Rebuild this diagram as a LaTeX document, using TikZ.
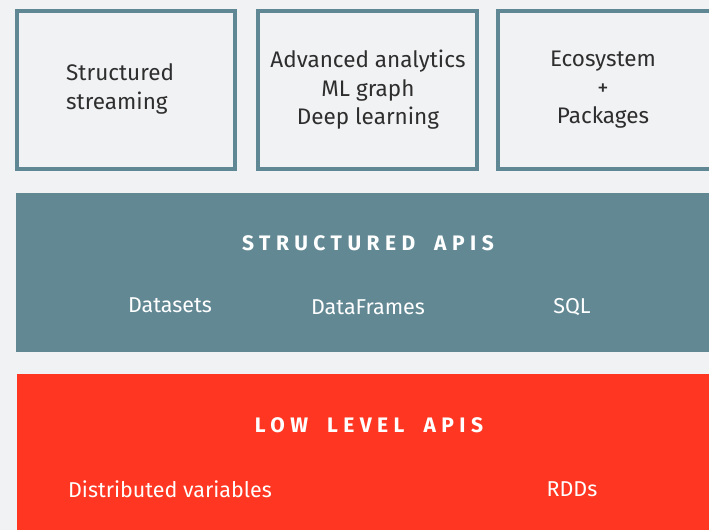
\documentclass[tikz,border=0pt]{standalone}
\usepackage{fontspec}
\setmainfont{Fira Sans}
\definecolor{bgc}{HTML}{F1F2F4}
\definecolor{edgec}{HTML}{5F8794}
\definecolor{bandc}{HTML}{628894}
\definecolor{redc}{HTML}{FF3621}
\definecolor{txtc}{HTML}{2E2E2E}
\begin{document}
\begin{tikzpicture}[x=1pt,y=-1pt,
  topbox/.style={draw=edgec,line width=4pt,fill=bgc},
  toptext/.style={text=txtc,font=\fontsize{22.5}{28.5}\selectfont,align=center,inner sep=0pt},
  title/.style={text=white,font=\fontsize{21}{24}\selectfont\bfseries\addfontfeature{LetterSpace=26},inner sep=0pt},
  item/.style={text=white,font=\fontsize{21.5}{24}\selectfont,inner sep=0pt}]
\clip (0,0) rectangle (709,530);
\fill[bgc] (0,0) rectangle (709,530);
% top boxes
\draw[topbox] (17,11) rectangle (235,169);
\draw[topbox] (258,11) rectangle (477,169);
\draw[topbox] (498,11) rectangle (730,169);
\node[toptext,align=left,anchor=west] (t1) at (66,89) {Structured\\streaming};
\node[toptext] (t2) at (368,90) {Advanced analytics\\ML graph\\Deep learning};
\node[toptext] (t3) at (603,90) {Ecosystem\\+\\Packages};
% structured APIs
\fill[bandc] (16,193) rectangle (709,352);
\node[title] (s) at (368,243) {STRUCTURED\hspace{19pt}APIS};
\node[item] (ds) at (170,305) {Datasets};
\node[item] (df) at (368,307) {DataFrames};
\node[item] (sql) at (572,307) {SQL};
% low level APIs
\fill[redc] (17,374) rectangle (709,530);
\node[title] (l) at (369,425) {LOW\hspace{19pt}LEVEL\hspace{19pt}APIS};
\node[item] (dv) at (170,489) {Distributed variables};
\node[item] (rdd) at (572,489) {RDDs};
\end{tikzpicture}
\end{document}
